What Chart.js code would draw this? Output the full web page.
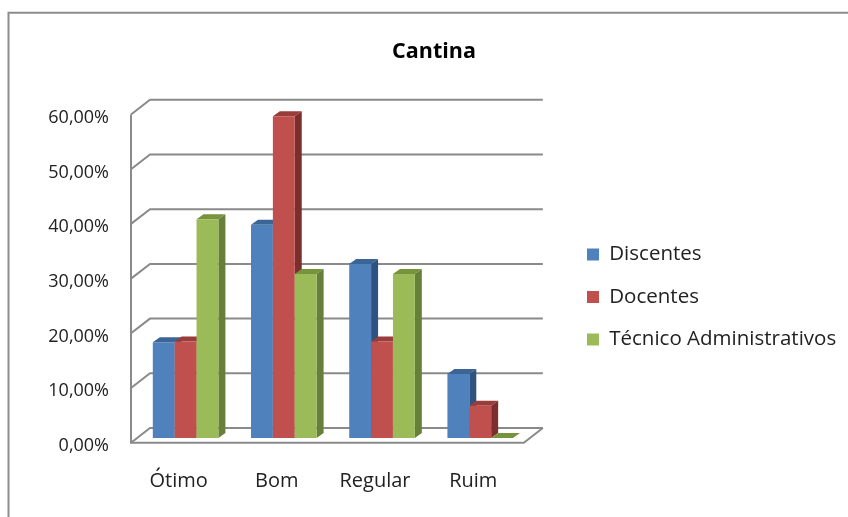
<!DOCTYPE html>
<html>
<head>
<meta charset="utf-8">
<title>Cantina</title>
<script src="https://cdn.jsdelivr.net/npm/chart.js@4"></script>
<style>
    html, body { margin: 0; padding: 0; background: #fff; }
    canvas { display: block; }
</style>
</head>
<body>
<canvas id="cantinaChart" width="848" height="517"></canvas>
<script>
const categories = ['Ótimo', 'Bom', 'Regular', 'Ruim'];
const discentes = [17.5, 39, 31.8, 11.7];
const docentes = [17.65, 58.82, 17.65, 5.88];
const tecnicos = [40, 30, 30, 0];
const seriesNames = ['Discentes', 'Docentes', 'Técnico Administrativos'];

const frontColors = ['#4f81bd', '#c0504d', '#9bbb59'];
const topColors = ['#3b6595', '#9a3c3a', '#77933c'];
const sideColors = ['#2f5380', '#7b2f2d', '#66803a'];
const gridColor = '#8a8a8a';
const fontName = '"Open Sans", sans-serif';

// depth of the fake 3d box
const barDepth = { x: 7, y: -5 };
const wallBack = { x: 13.5, y: -10 };
const wallFront = { x: -5.5, y: 4.7 };

/**
 * Frame of the picture, back wall, floor and gridlines
 */
const wallsPlugin = {
    id: 'walls',
    beforeDatasetsDraw(chart) {
        const ctx = chart.ctx;
        const y = chart.scales.y;
        const left = chart.chartArea.left;
        const right = chart.chartArea.right;
        const zero = y.getPixelForValue(0);

        ctx.save();
        ctx.strokeStyle = '#8c8c8c';
        ctx.lineWidth = 2;
        ctx.beginPath();
        ctx.moveTo(8.5, 517);
        ctx.lineTo(8.5, 12.7);
        ctx.lineTo(848, 12.7);
        ctx.stroke();

        ctx.strokeStyle = gridColor;
        ctx.lineWidth = 2;
        y.ticks.forEach(tick => {
            const py = y.getPixelForValue(tick.value);
            ctx.beginPath();
            ctx.moveTo(left + wallFront.x, py + wallFront.y);
            ctx.lineTo(left + wallBack.x, py + wallBack.y);
            ctx.lineTo(right + wallBack.x, py + wallBack.y);
            ctx.stroke();
        });

        // left wall edge and floor
        ctx.beginPath();
        ctx.moveTo(left + wallFront.x, y.getPixelForValue(y.max) + wallFront.y);
        ctx.lineTo(left + wallFront.x, zero + wallFront.y);
        ctx.lineTo(right + wallFront.x, zero + wallFront.y);
        ctx.lineTo(right + wallBack.x, zero + wallBack.y);
        ctx.stroke();
        ctx.restore();
    },
    // the library paints the last dataset first, here the first one has to go under
    beforeDatasetDraw() {
        return false;
    },
    afterDatasetsDraw(chart) {
        const ctx = chart.ctx;
        chart.data.datasets.forEach((dataset, i) => {
            const meta = chart.getDatasetMeta(i);
            ctx.save();
            meta.data.forEach(bar => {
                const x0 = bar.x - bar.width / 2;
                const x1 = bar.x + bar.width / 2;

                ctx.fillStyle = topColors[i];
                ctx.beginPath();
                ctx.moveTo(x0, bar.y);
                ctx.lineTo(x0 + barDepth.x, bar.y + barDepth.y);
                ctx.lineTo(x1 + barDepth.x, bar.y + barDepth.y);
                ctx.lineTo(x1, bar.y);
                ctx.closePath();
                ctx.fill();

                ctx.fillStyle = sideColors[i];
                ctx.beginPath();
                ctx.moveTo(x1, bar.y);
                ctx.lineTo(x1 + barDepth.x, bar.y + barDepth.y);
                ctx.lineTo(x1 + barDepth.x, bar.base + barDepth.y);
                ctx.lineTo(x1, bar.base);
                ctx.closePath();
                ctx.fill();
            });
            ctx.restore();
            meta.controller.draw();
        });
    }
};

/**
 * Move legend and title to where the picture has them, chart area stays put
 */
const boxShiftPlugin = {
    id: 'boxShift',
    afterLayout(chart) {
        const legend = chart.legend;
        const dx = 565 - legend.left;
        legend.left += dx;
        legend.right += dx;
        const dy = 297 - (legend.top + legend.bottom) / 2;
        legend.top += dy;
        legend.bottom += dy;

        const title = chart.titleBlock;
        const titleShift = 434 - (title.left + title.right) / 2;
        title.left += titleShift;
        title.right += titleShift;
    }
};

new Chart(document.getElementById('cantinaChart'), {
    type: 'bar',
    data: {
        labels: categories,
        datasets: [
            { label: seriesNames[0], data: discentes, backgroundColor: frontColors[0] },
            { label: seriesNames[1], data: docentes, backgroundColor: frontColors[1] },
            { label: seriesNames[2], data: tecnicos, backgroundColor: frontColors[2] }
        ]
    },
    plugins: [wallsPlugin, boxShiftPlugin],
    options: {
        responsive: false,
        animation: false,
        layout: { padding: { left: 46.5, right: 37.5, top: 0, bottom: 0 } },
        datasets: { bar: { barPercentage: 1, categoryPercentage: 0.668 } },
        plugins: {
            title: {
                display: true,
                text: 'Cantina',
                color: '#000',
                font: { family: fontName, size: 21.5, weight: 'bold' },
                padding: { top: 39, bottom: 45 }
            },
            legend: {
                position: 'right',
                maxWidth: 400,
                labels: {
                    color: '#222',
                    boxWidth: 12,
                    boxHeight: 12,
                    padding: 22,
                    font: { family: fontName, size: 20.5 }
                }
            },
            tooltip: { enabled: false }
        },
        scales: {
            x: {
                grid: { display: false, drawTicks: false },
                border: { display: false },
                afterFit(scale) { scale.height = 79; },
                ticks: {
                    color: '#222',
                    padding: 31,
                    labelOffset: -7,
                    maxRotation: 0,
                    font: { family: fontName, size: 20 }
                }
            },
            y: {
                min: 0,
                max: 60,
                grid: { display: false, drawTicks: false },
                border: { display: false },
                afterFit(scale) { scale.width = 90; },
                ticks: {
                    stepSize: 10,
                    color: '#222',
                    padding: 27.5,
                    labelOffset: 8,
                    font: { family: fontName, size: 18 },
                    callback: value => value.toFixed(2).replace('.', ',') + '%'
                }
            }
        }
    }
});
</script>
</body>
</html>
